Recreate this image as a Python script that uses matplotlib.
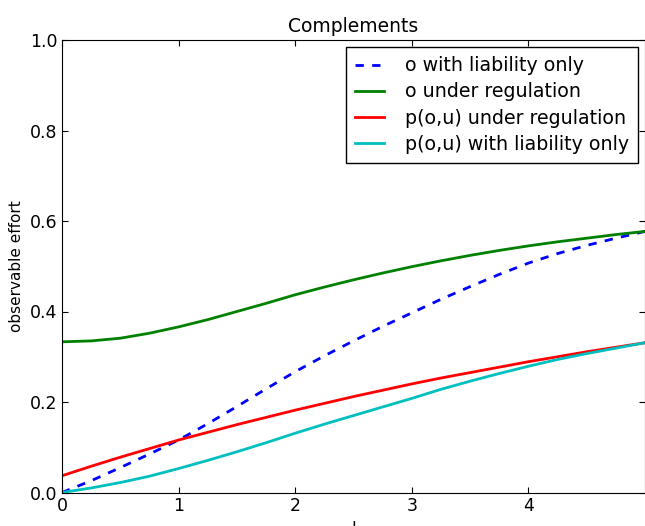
import numpy as np
import matplotlib
matplotlib.use('Agg')
import matplotlib.pyplot as plt

# effort level l
l = [0.0, 0.25, 0.5, 0.75, 1.0, 1.25, 1.5, 1.75, 2.0, 2.25, 2.5,
     2.75, 3.0, 3.25, 3.5, 3.75, 4.0, 4.25, 4.5, 4.75, 5.0]

o_liab = [0.0, 0.026, 0.055, 0.085, 0.116, 0.152, 0.190, 0.229, 0.267, 0.302, 0.335,
          0.367, 0.397, 0.427, 0.455, 0.482, 0.507, 0.528, 0.546, 0.562, 0.577]
o_reg = [0.333, 0.335, 0.341, 0.352, 0.366, 0.382, 0.400, 0.418, 0.437, 0.454, 0.470,
         0.485, 0.499, 0.512, 0.524, 0.535, 0.545, 0.554, 0.562, 0.570, 0.577]
p_reg = [0.037, 0.058, 0.078, 0.097, 0.116, 0.133, 0.150, 0.166, 0.182, 0.197, 0.212,
         0.226, 0.240, 0.253, 0.265, 0.277, 0.289, 0.300, 0.311, 0.321, 0.331]
p_liab = [0.0, 0.010, 0.022, 0.036, 0.053, 0.071, 0.090, 0.110, 0.131, 0.151, 0.170,
          0.189, 0.208, 0.228, 0.246, 0.263, 0.279, 0.294, 0.307, 0.319, 0.331]

fig = plt.figure(figsize=(6.45, 5.26), dpi=100)
ax = fig.add_axes([62/645, 33.5/526, 583/645, 452.5/526])

ax.plot(l, o_liab, 'b--', lw=2, dashes=(3, 3), label='o with liability only')
ax.plot(l, o_reg, color='g', lw=2, label='o under regulation')
ax.plot(l, p_reg, color='r', lw=2, label='p(o,u) under regulation')
ax.plot(l, p_liab, color='c', lw=2, label='p(o,u) with liability only')

ax.set_xlim(0, 5)
ax.set_ylim(0, 1)
ax.set_xticks([0, 1, 2, 3, 4])
ax.set_yticks([0.0, 0.2, 0.4, 0.6, 0.8, 1.0])
ax.set_yticklabels(['0.0', '0.2', '0.4', '0.6', '0.8', '1.0'])
ax.tick_params(direction='in', top=True, right=True, labelsize=12.5, length=4)
ax.set_xlabel('l', fontsize=12)
ax.set_ylabel('observable effort', fontsize=11)
ax.set_title('Complements', fontsize=13.5)

leg = ax.legend(loc='upper right', fontsize=13.7, fancybox=False, framealpha=1,
                edgecolor='black', handlelength=1.5, handletextpad=1.1,
                borderpad=0.5, labelspacing=0.38, borderaxespad=0.35)

fig.savefig('out.png', dpi=100)
